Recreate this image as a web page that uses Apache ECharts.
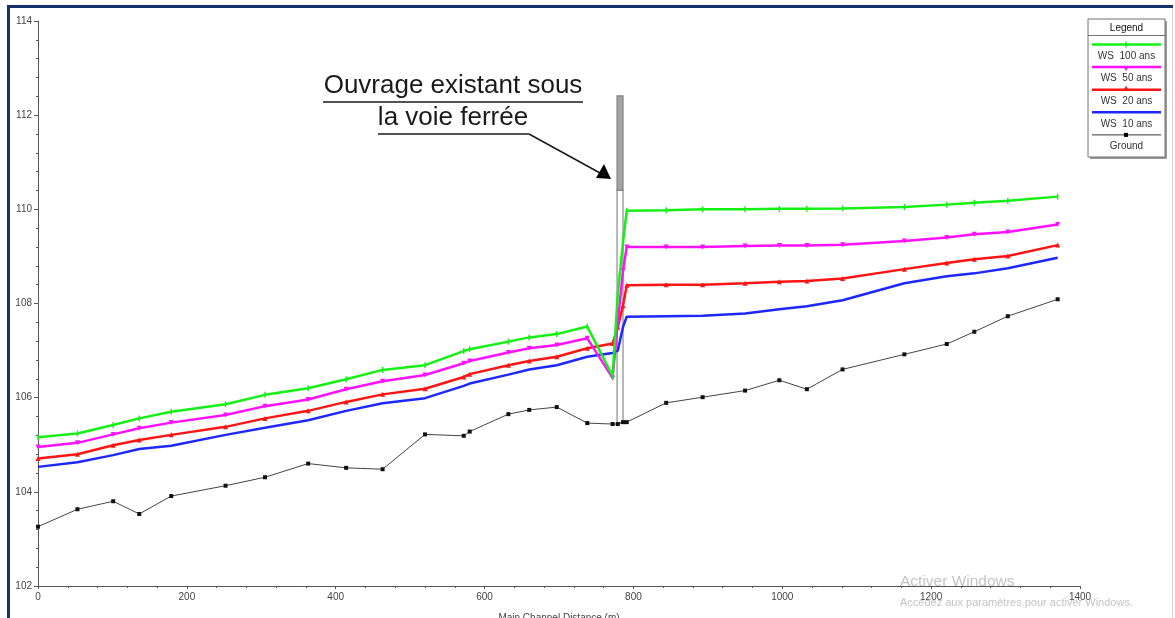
<!DOCTYPE html>
<html>
<head>
<meta charset="utf-8">
<script src="https://cdn.jsdelivr.net/npm/echarts@6/dist/echarts.min.js"></script>
<style>
  html, body { margin: 0; padding: 0; background: #ffffff; }
  #chart { width: 1175px; height: 618px; }
</style>
</head>
<body>
<div id="chart"></div>
<script>
// Cross-section stations along the main channel (m)
const stations = [0, 53, 101, 136, 179, 252, 305, 363, 414, 463, 520, 572, 580, 632, 660, 697,
  738, 772, 779, 786, 791, 844, 893, 950, 996, 1033, 1081, 1164, 1221, 1258, 1303, 1370];

// Water surface elevations (m) per return period
const ws100 = [105.16, 105.24, 105.42, 105.56, 105.70, 105.86, 106.06, 106.20, 106.39, 106.59, 106.69, 106.99, 107.03, 107.19, 107.28, 107.35,
  107.51, 106.46, 108.20, 109.30, 109.97, 109.98, 110.00, 110.00, 110.01, 110.01, 110.02, 110.05, 110.10, 110.14, 110.18, 110.27];
const ws50 = [104.95, 105.04, 105.22, 105.35, 105.47, 105.63, 105.82, 105.96, 106.18, 106.35, 106.48, 106.73, 106.78, 106.96, 107.05, 107.12,
  107.26, 106.42, 107.60, 108.70, 109.20, 109.20, 109.20, 109.22, 109.23, 109.23, 109.25, 109.33, 109.40, 109.47, 109.52, 109.68];
const ws20 = [104.71, 104.80, 104.99, 105.10, 105.21, 105.38, 105.56, 105.72, 105.91, 106.07, 106.19, 106.44, 106.50, 106.69, 106.78, 106.87,
  107.05, 107.15, 107.50, 107.95, 108.39, 108.40, 108.40, 108.43, 108.46, 108.48, 108.53, 108.73, 108.86, 108.94, 109.01, 109.24];
const ws10 = [104.53, 104.63, 104.78, 104.91, 104.98, 105.21, 105.36, 105.52, 105.72, 105.88, 105.99, 106.25, 106.30, 106.49, 106.60, 106.69,
  106.87, 106.95, 107.00, 107.50, 107.72, 107.73, 107.74, 107.79, 107.88, 107.94, 108.07, 108.43, 108.58, 108.64, 108.75, 108.97];
const ground = [103.26, 103.63, 103.80, 103.53, 103.91, 104.13, 104.31, 104.60, 104.51, 104.48, 105.22, 105.19, 105.28, 105.65, 105.74, 105.80,
  105.46, 105.44, 105.44, 105.48, 105.48, 105.89, 106.01, 106.15, 106.37, 106.18, 106.60, 106.92, 107.14, 107.40, 107.73, 108.09];

// Railway bridge: [start, end, bottom (ground), deck bottom, deck top]
const bridge = [[778, 786, 105.46, 110.41, 112.41]];

const seriesNames = ['WS  100 ans', 'WS  50 ans', 'WS  20 ans', 'WS  10 ans', 'Ground'];
const colors = ['#14f014', '#ff10ff', '#ff1414', '#1c28ff', '#3a3a3a'];

const pairs = (ys) => stations.map((x, i) => [x, ys[i]]);

const FONT = '"Liberation Sans", Arial, sans-serif';
const chart = echarts.init(document.getElementById('chart'), null, { renderer: 'canvas' });

// Legend panel drawn as a boxed key, label under each line sample
const legendX = 1088, legendY = 19, legendW = 77, legendH = 138;
const legendItems = [];
legendItems.push({ type: 'rect', shape: { x: legendX + 2, y: legendY + 2, width: legendW, height: legendH }, style: { fill: '#9a9a9a' }, z: 10 });
legendItems.push({ type: 'rect', shape: { x: legendX, y: legendY, width: legendW, height: legendH }, style: { fill: '#ffffff', stroke: '#707070', lineWidth: 1 }, z: 11 });
legendItems.push({ type: 'line', shape: { x1: legendX, y1: legendY + 16.5, x2: legendX + legendW, y2: legendY + 16.5 }, style: { stroke: '#707070', lineWidth: 1 }, z: 12 });
legendItems.push({ type: 'text', x: legendX + legendW / 2, y: legendY + 9, style: { text: 'Legend', font: '10px ' + FONT, fill: '#111', align: 'center', verticalAlign: 'middle' }, z: 12 });
const symbolsLegend = ['tick', 'down', 'up', 'none', 'square'];
seriesNames.forEach((name, i) => {
  const ly = legendY + 25.5 + i * 22.6;
  const isGround = i === 4;
  legendItems.push({ type: 'line', shape: { x1: legendX + 4, y1: ly, x2: legendX + legendW - 4, y2: ly }, style: { stroke: colors[i], lineWidth: isGround ? 1 : 2.5 }, z: 12 });
  const cx = legendX + 38;
  if (symbolsLegend[i] === 'tick') {
    legendItems.push({ type: 'rect', shape: { x: cx - 0.7, y: ly - 3, width: 1.4, height: 6 }, style: { fill: colors[i] }, z: 13 });
  } else if (symbolsLegend[i] === 'down') {
    legendItems.push({ type: 'polygon', shape: { points: [[cx - 3, ly - 1], [cx + 3, ly - 1], [cx, ly + 4]] }, style: { fill: colors[i] }, z: 13 });
  } else if (symbolsLegend[i] === 'up') {
    legendItems.push({ type: 'polygon', shape: { points: [[cx - 3, ly + 1], [cx + 3, ly + 1], [cx, ly - 4]] }, style: { fill: colors[i] }, z: 13 });
  } else if (symbolsLegend[i] === 'square') {
    legendItems.push({ type: 'rect', shape: { x: cx - 2, y: ly - 2, width: 4, height: 4 }, style: { fill: '#000' }, z: 13 });
  }
  legendItems.push({ type: 'text', x: legendX + legendW / 2, y: ly + 11.5, style: { text: name, font: '10px ' + FONT, fill: '#333', align: 'center', verticalAlign: 'middle' }, z: 12 });
});

const option = {
  animation: false,
  backgroundColor: '#ffffff',
  grid: { left: 38, right: 95, top: 21, bottom: 32, containLabel: false, outerBoundsMode: 'none' },
  xAxis: {
    type: 'value', min: 0, max: 1400, interval: 200,
    name: 'Main Channel Distance (m)', nameLocation: 'middle', nameGap: 27,
    nameTextStyle: { fontFamily: FONT, fontSize: 10, color: '#444' },
    axisLine: { lineStyle: { color: '#555', width: 1 } },
    axisTick: { show: true, length: 3, lineStyle: { color: '#555' } },
    minorTick: { show: true, splitNumber: 5, length: 2, lineStyle: { color: '#555' } },
    axisLabel: { fontFamily: FONT, fontSize: 10, color: '#444', margin: 6, formatter: (v) => String(v) },
    splitLine: { show: false }
  },
  yAxis: {
    type: 'value', min: 102, max: 114, interval: 2,
    axisLine: { show: true, lineStyle: { color: '#555', width: 1 } },
    axisTick: { show: true, length: 4, lineStyle: { color: '#555' } },
    minorTick: { show: true, splitNumber: 5, length: 2, lineStyle: { color: '#555' } },
    axisLabel: { fontFamily: FONT, fontSize: 10, color: '#444', margin: 6, formatter: (v) => String(v) },
    splitLine: { show: false }
  },
  series: [
    {
      name: 'Bridge', type: 'custom', z: 1,
      data: bridge,
      renderItem: (params, api) => {
        const x0 = api.value(0), x1 = api.value(1);
        const pBot = api.coord([x0, api.value(2)]);
        const pDeck = api.coord([x1, api.value(3)]);
        const pTop = api.coord([x0, api.value(4)]);
        const w = pDeck[0] - pBot[0];
        return {
          type: 'group',
          children: [
            { type: 'rect', shape: { x: pBot[0], y: pDeck[1], width: w, height: pBot[1] - pDeck[1] },
              style: { fill: '#ffffff', stroke: '#8a8a8a', lineWidth: 1.2 } },
            { type: 'rect', shape: { x: pBot[0], y: pTop[1], width: w, height: pDeck[1] - pTop[1] },
              style: { fill: '#a4a4a4', stroke: '#808080', lineWidth: 1.2 } }
          ]
        };
      }
    },
    {
      name: seriesNames[4], type: 'line', data: pairs(ground), z: 2,
      lineStyle: { color: '#444', width: 1 },
      symbol: 'rect', symbolSize: 4, itemStyle: { color: '#111' }
    },
    {
      name: seriesNames[3], type: 'line', data: pairs(ws10), z: 3,
      lineStyle: { color: colors[3], width: 2.5 }, symbol: 'none'
    },
    {
      name: seriesNames[2], type: 'line', data: pairs(ws20), z: 4,
      lineStyle: { color: colors[2], width: 2.5 },
      symbol: 'triangle', symbolSize: 5, itemStyle: { color: colors[2] }
    },
    {
      name: seriesNames[1], type: 'line', data: pairs(ws50), z: 5,
      lineStyle: { color: colors[1], width: 2.5 },
      symbol: 'triangle', symbolRotate: 180, symbolSize: 5, itemStyle: { color: colors[1] }
    },
    {
      name: seriesNames[0], type: 'line', data: pairs(ws100), z: 6,
      lineStyle: { color: colors[0], width: 2.5 },
      symbol: 'rect', symbolSize: [1.4, 6], itemStyle: { color: colors[0] }
    }
  ],
  graphic: [
    // window frame
    { type: 'rect', shape: { x: 7, y: 5, width: 1166, height: 3 }, style: { fill: '#15306a' }, z: 20 },
    { type: 'rect', shape: { x: 7, y: 5, width: 3, height: 613 }, style: { fill: '#15306a' }, z: 20 },
    { type: 'rect', shape: { x: 1172, y: 8, width: 1, height: 610 }, style: { fill: '#c9d0de' }, z: 20 },
    // annotation
    { type: 'text', x: 453, y: 99, style: { text: 'Ouvrage existant sous', font: '26px ' + FONT, fill: '#1a1a1a', align: 'center', verticalAlign: 'bottom' }, z: 15 },
    { type: 'line', shape: { x1: 323, y1: 102, x2: 583, y2: 102 }, style: { stroke: '#1a1a1a', lineWidth: 1.3 }, z: 15 },
    { type: 'text', x: 453, y: 131, style: { text: 'la voie ferrée', font: '26px ' + FONT, fill: '#1a1a1a', align: 'center', verticalAlign: 'bottom' }, z: 15 },
    { type: 'line', shape: { x1: 378, y1: 134, x2: 529, y2: 134 }, style: { stroke: '#1a1a1a', lineWidth: 1.3 }, z: 15 },
    { type: 'line', shape: { x1: 529, y1: 134, x2: 600, y2: 173 }, style: { stroke: '#1a1a1a', lineWidth: 1.5 }, z: 15 },
    { type: 'polygon', shape: { points: [[611, 179], [596, 178], [604, 164]] }, style: { fill: '#000' }, z: 15 },
    // system watermark
    { type: 'text', x: 900, y: 582, style: { text: 'Activer Windows', font: '15.5px ' + FONT, fill: '#c4c4c4', align: 'left', verticalAlign: 'middle' }, z: 16 },
    { type: 'text', x: 900, y: 603, style: { text: 'Accédez aux paramètres pour activer Windows.', font: '11px ' + FONT, fill: '#c4c4c4', align: 'left', verticalAlign: 'middle' }, z: 16 }
  ].concat(legendItems)
};

chart.setOption(option);
</script>
</body>
</html>
